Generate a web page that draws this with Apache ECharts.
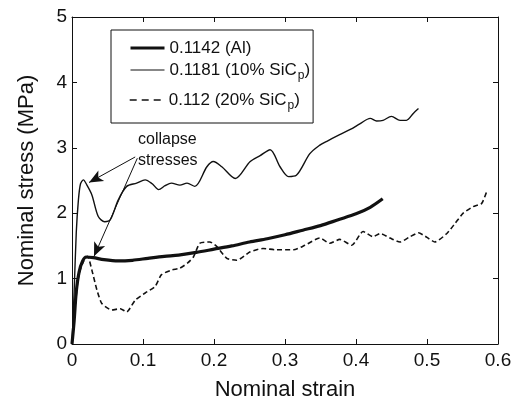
<!DOCTYPE html>
<html><head><meta charset="utf-8">
<script src="https://cdn.jsdelivr.net/npm/echarts@6/dist/echarts.min.js"></script>
<style>html,body{margin:0;padding:0;background:#fff}#c{width:515px;height:402px}</style>
</head><body><div id="c"></div>
<script>
const xTicks = [0, 0.1, 0.2, 0.3, 0.4, 0.5, 0.6];
const yTicks = [0, 1, 2, 3, 4, 5];
const seriesNames = ['0.1142 (Al)', '0.1181 (10% SiC{s|p})', '0.112 (20% SiC{s|p})'];
const al = [[0,0],[0.003,0.35],[0.006,0.8],[0.01,1.1],[0.015,1.27],[0.02,1.33],[0.03,1.32],[0.045,1.29],[0.065,1.27],[0.085,1.28],[0.107,1.31],[0.13,1.34],[0.15,1.36],[0.175,1.40],[0.2,1.45],[0.225,1.5],[0.25,1.56],[0.275,1.61],[0.3,1.67],[0.325,1.74],[0.35,1.81],[0.375,1.9],[0.4,1.99],[0.42,2.09],[0.4376,2.22]];
const sic10 = [[0,0],[0.003,0.8],[0.006,1.7],[0.009,2.2],[0.012,2.45],[0.016,2.51],[0.021,2.43],[0.028,2.28],[0.037,1.95],[0.046,1.87],[0.054,1.9],[0.065,2.2],[0.077,2.41],[0.091,2.46],[0.103,2.51],[0.113,2.45],[0.122,2.36],[0.131,2.42],[0.140,2.46],[0.152,2.43],[0.162,2.46],[0.173,2.41],[0.19,2.71],[0.199,2.79],[0.211,2.71],[0.23,2.53],[0.251,2.79],[0.265,2.88],[0.279,2.97],[0.293,2.71],[0.305,2.56],[0.316,2.58],[0.335,2.91],[0.349,3.04],[0.359,3.1],[0.377,3.2],[0.392,3.28],[0.406,3.37],[0.42,3.45],[0.429,3.41],[0.438,3.42],[0.45,3.48],[0.462,3.42],[0.471,3.42],[0.481,3.53],[0.488,3.60]];
const sic20 = [[0,0],[0.004,0.5],[0.008,0.95],[0.012,1.15],[0.017,1.28],[0.022,1.34],[0.028,1.13],[0.035,0.83],[0.042,0.62],[0.056,0.52],[0.068,0.54],[0.077,0.49],[0.089,0.67],[0.103,0.78],[0.117,0.88],[0.126,1.06],[0.14,1.13],[0.152,1.16],[0.163,1.24],[0.171,1.33],[0.18,1.54],[0.194,1.56],[0.204,1.49],[0.218,1.31],[0.232,1.28],[0.251,1.41],[0.269,1.46],[0.288,1.44],[0.312,1.44],[0.328,1.51],[0.349,1.62],[0.363,1.54],[0.377,1.6],[0.394,1.51],[0.41,1.72],[0.424,1.64],[0.434,1.69],[0.448,1.62],[0.462,1.56],[0.476,1.64],[0.488,1.7],[0.5,1.63],[0.511,1.56],[0.528,1.69],[0.54,1.85],[0.551,2.0],[0.565,2.1],[0.577,2.15],[0.584,2.33]];
const arrows = [[[0.089,2.86],[0.024,2.47]],[[0.092,2.84],[0.031,1.34]]];
const annText = ['collapse', 'stresses'];

const chart = echarts.init(document.getElementById('c'), null, {renderer:'canvas'});
const F = 'Liberation Sans, Arial, sans-serif';
const C = '#111';
const axBase = {
  min: 0, axisLine:{show:true, onZero:false, lineStyle:{color:C, width:1}},
  axisTick:{show:true, inside:true, length:5, lineStyle:{color:C}},
  splitLine:{show:false}
};
const legText = {fontFamily:F, fontSize:17, color:C, lineHeight:18,
  rich:{s:{fontFamily:F, fontSize:12, color:C, lineHeight:12, padding:[12,0,0,1]}}};
const legBase = {show:true, orient:'vertical', left:111, itemGap:1, itemWidth:34, itemHeight:14,
  textStyle:legText, inactiveColor:C, itemStyle:{opacity:0, borderWidth:0}};
const legItem = (i, w, t) => ({name:seriesNames[i], itemStyle:{opacity:0, borderWidth:0},
  lineStyle:{width:w, type:t, color:C, opacity:1}});
chart.setOption({
  animation:false,
  grid:{left:72, right:17, top:17, bottom:58, containLabel:false, outerBoundsMode:'none'},
  legend:[
    Object.assign({}, legBase, {top:30, padding:[9,3,41,18], borderColor:C, borderWidth:1, backgroundColor:'#fff',
      data:[legItem(0,3,'solid'), legItem(1,1.2,'solid')]}),
    Object.assign({}, legBase, {top:88, padding:[0,0,0,18], data:[legItem(2,1.4,[7,5])]})
  ],
  xAxis:[
    Object.assign({}, axBase, {type:'value', max:0.6, interval:0.1, position:'bottom',
      axisLabel:{fontFamily:F, fontSize:19, color:C, margin:7, formatter:v=>xTicks.includes(+v.toFixed(1))?String(+v.toFixed(1)):''},
      name:'Nominal strain', nameLocation:'middle', nameGap:35, nameTextStyle:{fontFamily:F, fontSize:22, color:C}}),
    Object.assign({}, axBase, {type:'value', max:0.6, interval:0.1, position:'top', axisLabel:{show:false}})
  ],
  yAxis:[
    Object.assign({}, axBase, {type:'value', max:5, interval:1, position:'left',
      axisLabel:{fontFamily:F, fontSize:19, color:C, margin:5, formatter:v=>yTicks.includes(v)?String(v):''},
      name:'Nominal stress (MPa)', nameLocation:'middle', nameGap:34, nameTextStyle:{fontFamily:F, fontSize:22, color:C}}),
    Object.assign({}, axBase, {type:'value', max:5, interval:1, position:'right', axisLabel:{show:false}})
  ],
  series:[
    {name:seriesNames[0], type:'line', data:al, showSymbol:false, symbol:'none', smooth:0.3,
      lineStyle:{color:C, width:3.2}, itemStyle:{color:C}, z:5},
    {name:seriesNames[1], type:'line', data:sic10, showSymbol:false, symbol:'none', smooth:0.3,
      lineStyle:{color:C, width:1.4}, itemStyle:{color:C},
      markLine:{silent:true, symbol:['none','arrow'], symbolSize:[9,14], label:{show:false},
        lineStyle:{color:C, width:1, type:'solid'},
        data: arrows.map(a=>[{coord:a[0]},{coord:a[1]}])}},
    {name:seriesNames[2], type:'line', data:sic20, showSymbol:false, symbol:'none', smooth:0.2,
      lineStyle:{color:C, width:1.6, type:[5,3]}, itemStyle:{color:C}}
  ],
  graphic:[
    {type:'text', left:138, top:132, style:{text:annText[0], font:'16px '+F, fill:C}},
    {type:'text', left:138, top:153, style:{text:annText[1], font:'16px '+F, fill:C}}
  ]
});
</script></body></html>
